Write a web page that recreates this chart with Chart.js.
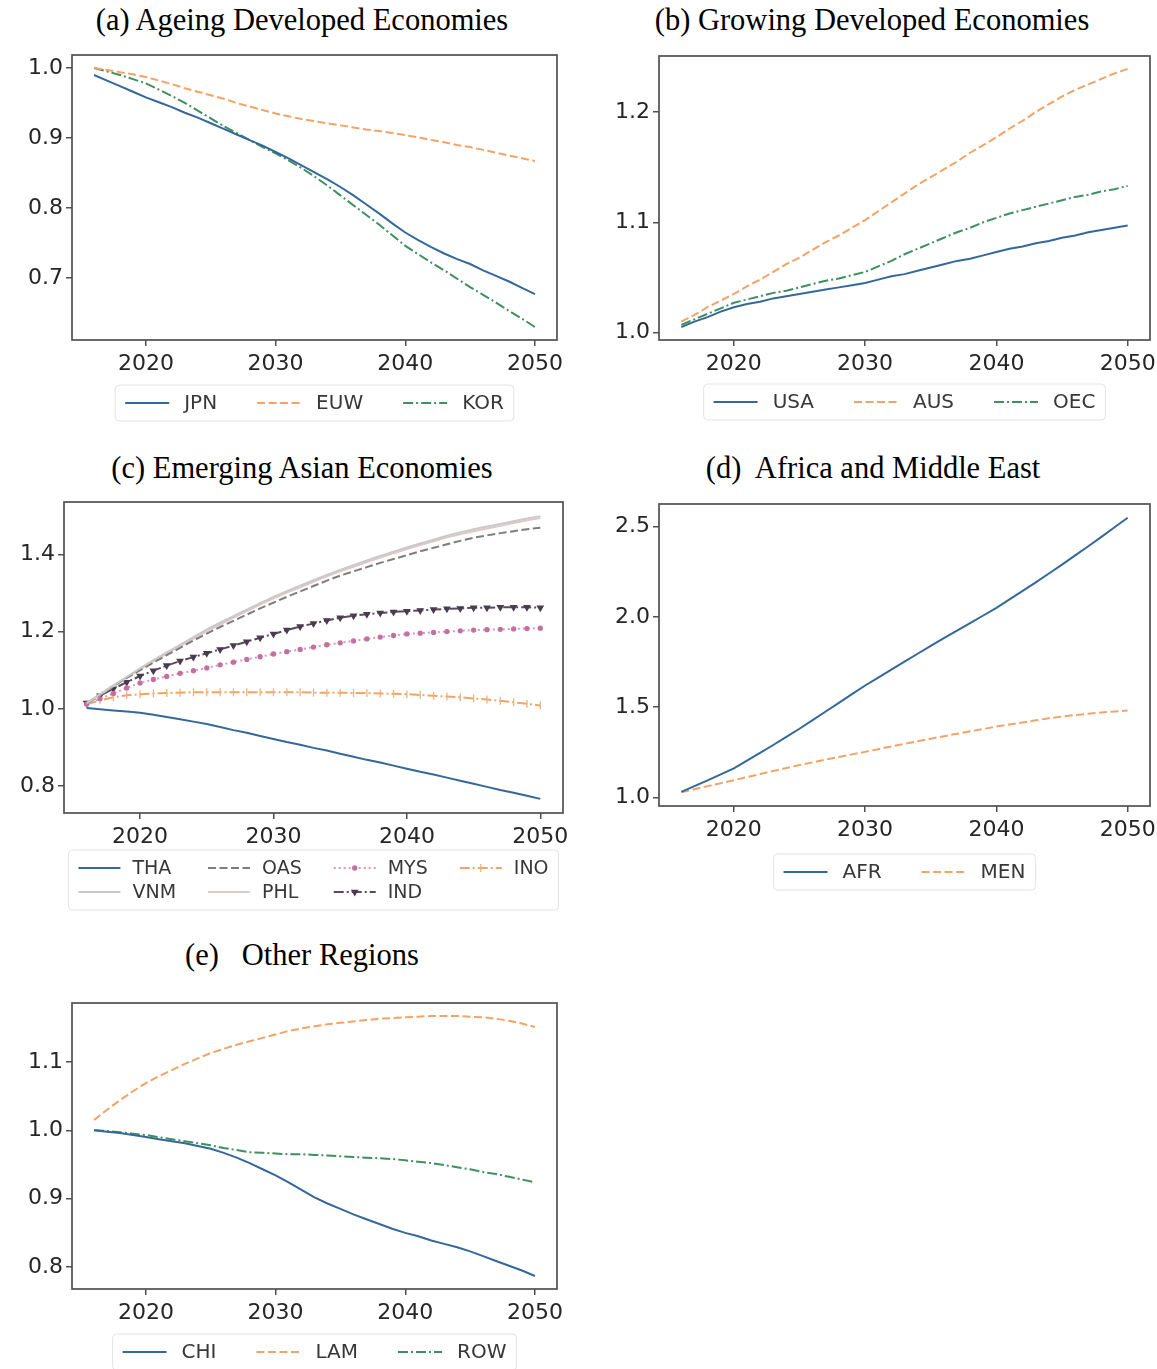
<!DOCTYPE html>
<html>
<head>
<meta charset="utf-8">
<script src="https://cdn.jsdelivr.net/npm/chart.js@4.4.1/dist/chart.umd.min.js"></script>
<style>
  html, body { margin: 0; padding: 0; background: #fff; width: 1157px; height: 1369px; overflow: hidden; }
  canvas { position: absolute; }
  .title {
    position: absolute; font-family: 'Liberation Serif', 'Times New Roman', serif;
    font-size: 30.5px; line-height: 1; white-space: pre; color: #000;
    transform: translate(-50%, -50%);
  }
</style>
</head>
<body>
<div class="title" style="left:302px;top:20px">(a) Ageing Developed Economies</div>
<div class="title" style="left:872px;top:20px">(b) Growing Developed Economies</div>
<div class="title" style="left:302px;top:468px">(c) Emerging Asian Economies</div>
<div class="title" style="left:873px;top:468px">(d)  Africa and Middle East</div>
<div class="title" style="left:302px;top:955px">(e)   Other Regions</div>

<canvas id="chartA"></canvas>
<canvas id="chartB"></canvas>
<canvas id="chartC"></canvas>
<canvas id="chartD"></canvas>
<canvas id="chartE"></canvas>

<script>
'use strict';
// DATA
var years = [2016, 2017, 2018, 2019, 2020, 2021, 2022, 2023, 2024, 2025, 2026, 2027,
  2028, 2029, 2030, 2031, 2032, 2033, 2034, 2035, 2036, 2037, 2038, 2039, 2040, 2041,
  2042, 2043, 2044, 2045, 2046, 2047, 2048, 2049, 2050];
var xTickYears = [2020, 2030, 2040, 2050];

// (a) Ageing Developed Economies
var jpn = [0.990, 0.982, 0.974, 0.966, 0.958, 0.951, 0.944, 0.936, 0.929, 0.921, 0.913, 0.905,
  0.897, 0.889, 0.880, 0.871, 0.861, 0.851, 0.841, 0.830, 0.818, 0.805, 0.792, 0.778, 0.765,
  0.754, 0.744, 0.735, 0.727, 0.720, 0.711, 0.703, 0.695, 0.686, 0.677];
var euw = [1.000, 0.997, 0.994, 0.991, 0.987, 0.982, 0.977, 0.971, 0.966, 0.961, 0.956, 0.950,
  0.945, 0.940, 0.935, 0.931, 0.927, 0.924, 0.921, 0.918, 0.915, 0.912, 0.910, 0.907, 0.904,
  0.901, 0.897, 0.894, 0.890, 0.887, 0.883, 0.879, 0.875, 0.871, 0.867];
var kor = [1.000, 0.995, 0.990, 0.984, 0.978, 0.969, 0.960, 0.950, 0.939, 0.928, 0.917, 0.907,
  0.897, 0.887, 0.878, 0.868, 0.857, 0.845, 0.832, 0.818, 0.804, 0.790, 0.776, 0.761, 0.746,
  0.734, 0.722, 0.711, 0.699, 0.687, 0.676, 0.665, 0.653, 0.642, 0.630];
var ticksA = [0.7, 0.8, 0.9, 1.0];

// (b) Growing Developed Economies
var usa = [1.005, 1.010, 1.014, 1.019, 1.023, 1.026, 1.028, 1.031, 1.033, 1.035, 1.037, 1.039,
  1.041, 1.043, 1.045, 1.048, 1.051, 1.053, 1.056, 1.059, 1.062, 1.065, 1.067, 1.070, 1.073,
  1.076, 1.078, 1.081, 1.083, 1.086, 1.088, 1.091, 1.093, 1.095, 1.097];
var aus = [1.010, 1.016, 1.023, 1.029, 1.035, 1.042, 1.048, 1.055, 1.062, 1.068, 1.075, 1.082,
  1.088, 1.095, 1.102, 1.110, 1.118, 1.126, 1.134, 1.141, 1.148, 1.155, 1.163, 1.170, 1.177,
  1.185, 1.192, 1.200, 1.207, 1.214, 1.220, 1.225, 1.230, 1.235, 1.239];
var oec = [1.007, 1.012, 1.017, 1.022, 1.027, 1.030, 1.033, 1.036, 1.038, 1.041, 1.044, 1.047,
  1.049, 1.052, 1.055, 1.060, 1.065, 1.071, 1.076, 1.081, 1.086, 1.091, 1.095, 1.100, 1.104,
  1.108, 1.111, 1.114, 1.117, 1.120, 1.123, 1.125, 1.128, 1.130, 1.133];
var ticksB = [1.0, 1.1, 1.2];

// (c) Emerging Asian Economies
var tha = [1.002, 0.999, 0.996, 0.993, 0.990, 0.985, 0.979, 0.973, 0.967, 0.961, 0.953, 0.945,
  0.938, 0.930, 0.922, 0.914, 0.907, 0.899, 0.892, 0.884, 0.876, 0.868, 0.861, 0.853, 0.845,
  0.837, 0.830, 0.822, 0.814, 0.806, 0.798, 0.790, 0.783, 0.775, 0.767];
var vnm = [1.015, 1.038, 1.061, 1.083, 1.105, 1.126, 1.146, 1.166, 1.186, 1.205, 1.223, 1.240,
  1.257, 1.274, 1.290, 1.305, 1.319, 1.333, 1.347, 1.360, 1.372, 1.384, 1.396, 1.407, 1.418,
  1.428, 1.438, 1.448, 1.457, 1.465, 1.472, 1.479, 1.486, 1.493, 1.499];
var oas = [1.015, 1.037, 1.059, 1.080, 1.100, 1.120, 1.139, 1.158, 1.177, 1.195, 1.212, 1.228,
  1.244, 1.260, 1.275, 1.290, 1.304, 1.318, 1.332, 1.345, 1.356, 1.367, 1.378, 1.388, 1.398,
  1.408, 1.417, 1.426, 1.435, 1.443, 1.449, 1.455, 1.460, 1.465, 1.469];
var phl = [1.014, 1.036, 1.059, 1.081, 1.102, 1.123, 1.143, 1.163, 1.182, 1.201, 1.219, 1.236,
  1.253, 1.270, 1.286, 1.301, 1.315, 1.329, 1.343, 1.356, 1.368, 1.380, 1.392, 1.403, 1.414,
  1.424, 1.434, 1.444, 1.452, 1.460, 1.467, 1.474, 1.481, 1.488, 1.494];
var mys = [1.012, 1.026, 1.040, 1.054, 1.067, 1.076, 1.084, 1.092, 1.099, 1.106, 1.114, 1.121,
  1.128, 1.135, 1.142, 1.148, 1.154, 1.160, 1.166, 1.171, 1.176, 1.181, 1.186, 1.190, 1.194,
  1.196, 1.198, 1.200, 1.202, 1.204, 1.205, 1.206, 1.207, 1.208, 1.209];
var ind = [1.015, 1.034, 1.052, 1.069, 1.085, 1.099, 1.112, 1.124, 1.134, 1.144, 1.154, 1.164,
  1.174, 1.184, 1.194, 1.204, 1.213, 1.221, 1.229, 1.236, 1.241, 1.245, 1.248, 1.251, 1.253,
  1.255, 1.257, 1.259, 1.260, 1.262, 1.262, 1.263, 1.263, 1.263, 1.262];
var ino = [1.012, 1.022, 1.030, 1.035, 1.038, 1.040, 1.041, 1.042, 1.043, 1.043, 1.043, 1.043,
  1.043, 1.043, 1.043, 1.043, 1.043, 1.042, 1.042, 1.042, 1.041, 1.041, 1.040, 1.039, 1.038,
  1.036, 1.034, 1.032, 1.030, 1.027, 1.024, 1.021, 1.017, 1.013, 1.009];
var ticksC = [0.8, 1.0, 1.2, 1.4];

// (d) Africa and Middle East
var afr = [1.030, 1.062, 1.094, 1.127, 1.160, 1.203, 1.246, 1.290, 1.335, 1.380, 1.428, 1.476,
  1.524, 1.572, 1.620, 1.664, 1.708, 1.752, 1.796, 1.840, 1.882, 1.924, 1.966, 2.008, 2.050,
  2.097, 2.144, 2.192, 2.241, 2.290, 2.341, 2.392, 2.444, 2.497, 2.550];
var men = [1.028, 1.045, 1.062, 1.078, 1.095, 1.112, 1.129, 1.146, 1.162, 1.179, 1.194, 1.209,
  1.223, 1.238, 1.252, 1.267, 1.282, 1.296, 1.311, 1.325, 1.339, 1.352, 1.366, 1.379, 1.392,
  1.404, 1.415, 1.427, 1.438, 1.448, 1.456, 1.463, 1.470, 1.476, 1.481];
var ticksD = [1.0, 1.5, 2.0, 2.5];

// (e) Other Regions
var chi = [1.000, 0.998, 0.996, 0.993, 0.990, 0.987, 0.984, 0.981, 0.977, 0.973, 0.967, 0.960,
  0.952, 0.943, 0.934, 0.924, 0.913, 0.902, 0.893, 0.885, 0.877, 0.870, 0.863, 0.856, 0.850,
  0.845, 0.839, 0.834, 0.829, 0.823, 0.816, 0.809, 0.802, 0.795, 0.787];
var lam = [1.015, 1.030, 1.044, 1.057, 1.069, 1.079, 1.088, 1.097, 1.105, 1.113, 1.119, 1.125,
  1.130, 1.135, 1.140, 1.145, 1.149, 1.152, 1.155, 1.157, 1.159, 1.161, 1.163, 1.164, 1.165,
  1.166, 1.167, 1.167, 1.167, 1.166, 1.165, 1.163, 1.160, 1.156, 1.151];
var row = [1.000, 0.999, 0.997, 0.995, 0.993, 0.990, 0.987, 0.984, 0.981, 0.978, 0.974, 0.971,
  0.968, 0.967, 0.966, 0.965, 0.965, 0.964, 0.963, 0.962, 0.961, 0.960, 0.959, 0.958, 0.956,
  0.954, 0.952, 0.949, 0.946, 0.943, 0.939, 0.936, 0.932, 0.928, 0.924];
var ticksE = [0.8, 0.9, 1.0, 1.1];

// STYLES
var BLUE = '#35689a', ORANGE = '#f2a468', GREEN = '#3f8f5f';
var DASH = [8, 3.5], DASHDOT = [10, 3, 2, 3], DOT = [2, 3];

Chart.defaults.font.family = '"DejaVu Sans", Verdana, sans-serif';

function series(label, values, st) {
  return {
    label: label,
    data: years.map(function (yr, i) { return { x: yr, y: values[i] }; }),
    borderColor: st.color,
    borderWidth: 2,
    borderDash: st.dash || [],
    pointRadius: st.radius || 0,
    pointStyle: st.point || 'circle',
    rotation: st.rot || 0,
    pointBackgroundColor: st.pcolor || st.color,
    pointBorderColor: st.pcolor || st.color,
    pointBorderWidth: 1.3,
    fill: false,
    tension: 0
  };
}

// matplotlib style 5% margins
function autoRange(sets) {
  var lo = Infinity, hi = -Infinity;
  sets.forEach(function (s) {
    s.data.forEach(function (p) { lo = Math.min(lo, p.y); hi = Math.max(hi, p.y); });
  });
  var pad = (hi - lo) * 0.05;
  return { min: lo - pad, max: hi + pad };
}

// FRAME (all four spines)
var framePlugin = {
  id: 'frame',
  afterDatasetsDraw: function (chart) {
    var a = chart.chartArea, ctx = chart.ctx;
    ctx.save();
    ctx.strokeStyle = '#505050';
    ctx.lineWidth = 1.7;
    ctx.strokeRect(a.left, a.top, a.right - a.left, a.bottom - a.top);
    ctx.restore();
  }
};

// LEGEND below the axes, columns filled top to bottom
var legendPlugin = {
  id: 'mplLegend',
  afterDraw: function (chart, args, o) {
    var ctx = chart.ctx, a = chart.chartArea, sets = chart.data.datasets;
    var ncol = o.ncol, nrow = Math.ceil(sets.length / ncol);
    var HL = o.handle, HP = o.pad, CS = o.colSpace;
    ctx.save();
    ctx.font = o.fontSize + 'px "DejaVu Sans"';
    var colW = [], total = 0;
    for (var c = 0; c < ncol; c++) {
      var m = 0;
      for (var r = 0; r < nrow; r++) {
        var k = c * nrow + r;
        if (k < sets.length) m = Math.max(m, ctx.measureText(sets[k].label).width);
      }
      colW.push(HL + HP + m);
      total += HL + HP + m;
    }
    total += CS * (ncol - 1);
    var x0 = (a.left + a.right) / 2 - total / 2;
    var y0 = a.bottom + o.offset;

    ctx.strokeStyle = 'rgba(0,0,0,0.11)';
    ctx.lineWidth = 1;
    ctx.beginPath();
    ctx.roundRect(x0 - 10, y0 - 18, total + 20, (nrow - 1) * o.rowGap + 36, 4);
    ctx.stroke();

    var cx = x0;
    for (c = 0; c < ncol; c++) {
      for (r = 0; r < nrow; r++) {
        var i = c * nrow + r;
        if (i >= sets.length) continue;
        var ds = sets[i], y = y0 + r * o.rowGap;
        ctx.strokeStyle = ds.borderColor;
        ctx.lineWidth = 2;
        ctx.setLineDash(ds.borderDash);
        ctx.beginPath();
        ctx.moveTo(cx, y);
        ctx.lineTo(cx + HL, y);
        ctx.stroke();
        ctx.setLineDash([]);
        if (ds.pointRadius > 0) {
          ctx.fillStyle = ds.pointBackgroundColor;
          ctx.strokeStyle = ds.pointBorderColor;
          ctx.lineWidth = ds.pointBorderWidth;
          Chart.helpers.drawPoint(ctx, {
            pointStyle: ds.pointStyle, radius: ds.pointRadius,
            rotation: ds.rotation, borderWidth: ds.pointBorderWidth
          }, cx + HL / 2, y);
        }
        ctx.fillStyle = '#383838';
        ctx.textBaseline = 'middle';
        ctx.textAlign = 'left';
        ctx.fillText(ds.label, cx + HL + HP, y + 1);
      }
      cx += colW[c] + CS;
    }
    ctx.restore();
  }
};

function legendOpts(ncol, rows, offset, small) {
  return small
    ? { ncol: ncol, rows: rows, offset: offset, rowGap: 24, fontSize: 19, handle: 42, pad: 12, colSpace: 32 }
    : { ncol: ncol, rows: rows, offset: offset, rowGap: 24, fontSize: 20, handle: 44, pad: 15, colSpace: 40 };
}

function makeChart(id, frame, sets, yTicks, leg) {
  var yW = 64, pt = 14, pr = 30, xH = 44;
  var pb = leg.offset + (leg.rows - 1) * leg.rowGap + 30 - xH;
  var canvas = document.getElementById(id);
  canvas.width = (frame.r - frame.l) + yW + pr;
  canvas.height = pt + (frame.b - frame.t) + xH + pb;
  canvas.style.left = (frame.l - yW) + 'px';
  canvas.style.top = (frame.t - pt) + 'px';
  var yr = autoRange(sets);
  var tickGrid = { drawOnChartArea: false, drawTicks: true, tickLength: 6, color: '#505050', lineWidth: 1.5 };
  return new Chart(canvas.getContext('2d'), {
    type: 'line',
    data: { datasets: sets },
    options: {
      responsive: false,
      animation: false,
      devicePixelRatio: 1,
      layout: { padding: { top: pt, right: pr, bottom: pb, left: 0 } },
      scales: {
        x: {
          type: 'linear',
          min: years[0] - 0.05 * (years[years.length - 1] - years[0]),
          max: years[years.length - 1] + 0.05 * (years[years.length - 1] - years[0]),
          afterBuildTicks: function (s) { s.ticks = xTickYears.map(function (v) { return { value: v }; }); },
          afterFit: function (s) { s.height = xH; s.paddingLeft = 0; s.paddingRight = 0; },
          grid: tickGrid,
          border: { display: false },
          ticks: {
            font: { size: 22 }, color: '#262626', padding: 5, maxRotation: 0, autoSkip: false,
            callback: function (v) { return String(v); }
          }
        },
        y: {
          type: 'linear',
          min: yr.min,
          max: yr.max,
          afterBuildTicks: function (s) { s.ticks = yTicks.map(function (v) { return { value: v }; }); },
          afterFit: function (s) { s.width = yW; s.paddingTop = 0; s.paddingBottom = 0; },
          grid: tickGrid,
          border: { display: false },
          ticks: {
            font: { size: 22 }, color: '#262626', padding: 3, autoSkip: false,
            callback: function (v) { return v.toFixed(1); }
          }
        }
      },
      plugins: {
        legend: { display: false },
        tooltip: { enabled: false },
        mplLegend: leg
      }
    },
    plugins: [framePlugin, legendPlugin]
  });
}

// PANELS
makeChart('chartA', { l: 72, t: 55, r: 557, b: 340 }, [
  series('JPN', jpn, { color: BLUE }),
  series('EUW', euw, { color: ORANGE, dash: DASH }),
  series('KOR', kor, { color: GREEN, dash: DASHDOT })
], ticksA, legendOpts(3, 1, 63));

makeChart('chartB', { l: 659, t: 56, r: 1150, b: 340 }, [
  series('USA', usa, { color: BLUE }),
  series('AUS', aus, { color: ORANGE, dash: DASH }),
  series('OEC', oec, { color: GREEN, dash: DASHDOT })
], ticksB, legendOpts(3, 1, 62));

makeChart('chartC', { l: 64, t: 502, r: 563, b: 813 }, [
  series('THA', tha, { color: BLUE }),
  series('VNM', vnm, { color: '#c9c9c9' }),
  series('OAS', oas, { color: '#7d7d7d', dash: DASH }),
  series('PHL', phl, { color: '#dccaca' }),
  series('MYS', mys, { color: '#dd97bd', dash: DOT, radius: 2, pcolor: '#c4709e' }),
  series('IND', ind, { color: '#5a4a5c', dash: DASHDOT, radius: 3.2, point: 'triangle', rot: 180, pcolor: '#4a3c4c' }),
  series('INO', ino, { color: ORANGE, dash: DASHDOT, radius: 4, point: 'line', rot: 90, pcolor: '#eeb37e' })
], ticksC, legendOpts(4, 2, 55, true));

makeChart('chartD', { l: 659, t: 504, r: 1150, b: 806 }, [
  series('AFR', afr, { color: BLUE }),
  series('MEN', men, { color: ORANGE, dash: DASH })
], ticksD, legendOpts(2, 1, 66));

makeChart('chartE', { l: 72, t: 1003, r: 557, b: 1289 }, [
  series('CHI', chi, { color: BLUE }),
  series('LAM', lam, { color: ORANGE, dash: DASH }),
  series('ROW', row, { color: GREEN, dash: DASHDOT })
], ticksE, legendOpts(3, 1, 63));
</script>
</body>
</html>
